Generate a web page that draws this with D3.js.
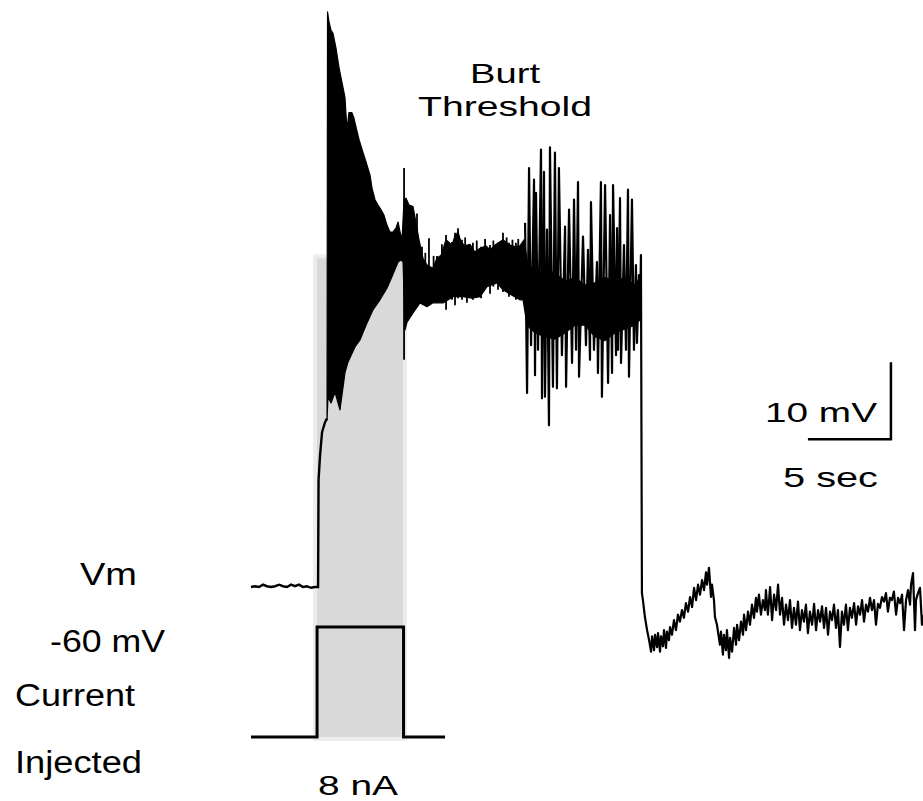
<!DOCTYPE html>
<html>
<head>
<meta charset="utf-8">
<script src="https://d3js.org/d3.v7.min.js"></script>
<style>
    body { margin: 0; background: #fff; }
    text { font-family: "Liberation Sans", Arial, sans-serif; fill: #000; }
</style>
</head>
<body>
<div id="chart"></div>
<script>
// time in s, membrane potential in mV, injected current in nA

let baseline = [
    [0, -60.0], [0.24, -59.9], [0.48, -60.0], [0.72, -59.7], [0.96, -59.9], [1.20, -60.0],
    [1.45, -59.9], [1.69, -59.7], [1.93, -59.9], [2.17, -60.0], [2.41, -59.7], [2.65, -59.9],
    [2.89, -59.7], [3.13, -60.0], [3.37, -59.9], [3.61, -60.1], [3.86, -60.0], [4.04, -60.0],
    [4.07, -46.1], [4.16, -42.9], [4.28, -39.9], [4.46, -38.6], [4.58, -38.1]
];

let burstUpper = [
    [4.58, -38.3], [4.61, 14.7], [4.70, 13.4], [4.82, 12.3], [4.94, 11.9], [5.12, 10.0],
    [5.30, 7.5], [5.54, 4.9], [5.66, 3.6], [5.78, -0.6], [5.90, 1.6], [6.08, 1.6],
    [6.20, 0.9], [6.33, -0.3], [6.51, -1.9], [6.75, -3.6], [6.93, -4.8], [7.17, -6.5],
    [7.29, -8.2], [7.47, -9.7], [7.65, -10.4], [7.83, -11.0], [8.01, -11.7], [8.19, -13.0],
    [8.37, -13.9], [8.55, -13.9], [8.73, -13.4], [8.86, -12.6], [8.98, -13.9], [9.10, -14.9],
    [9.22, -9.7], [9.34, -9.5], [9.52, -10.4], [9.76, -10.6], [9.94, -12.7], [10.12, -14.9],
    [10.36, -17.3], [10.60, -18.2], [10.96, -18.6], [11.20, -17.3], [11.45, -16.9], [11.75, -14.9],
    [12.11, -15.6], [12.29, -14.4], [12.47, -13.9], [12.65, -15.2], [12.89, -15.7], [13.19, -15.5],
    [13.49, -16.5], [13.80, -16.0], [14.16, -15.7], [14.40, -16.2], [14.70, -15.6], [15.18, -14.9],
    [15.60, -15.6], [15.90, -15.8], [16.20, -15.7], [16.45, -14.9], [16.63, -17.5], [17.11, -19.5],
    [17.71, -18.8], [18.31, -19.2], [18.92, -20.3], [19.52, -19.8], [20.12, -20.8], [20.72, -20.5],
    [21.33, -19.8], [21.93, -20.3], [22.53, -19.8], [23.13, -20.8], [23.43, -19.8]
];

let burstLower = [
    [4.58, -38.3], [4.64, -35.3], [4.82, -36.1], [5.06, -34.7], [5.36, -37.0], [5.66, -32.2],
    [5.84, -30.8], [6.27, -28.8], [6.57, -27.9], [6.99, -25.7], [7.35, -24.0], [7.77, -22.7],
    [8.19, -21.2], [8.49, -19.7], [8.86, -17.8], [9.04, -17.5], [9.16, -17.8], [9.28, -26.6],
    [9.40, -25.6], [9.76, -24.4], [10.18, -23.1], [10.60, -23.6], [10.96, -23.1], [11.57, -23.1],
    [12.17, -22.3], [12.77, -22.3], [13.31, -22.5], [13.80, -22.3], [14.22, -21.0], [14.82, -20.5],
    [15.18, -21.4], [15.72, -22.1], [16.20, -22.7], [16.39, -22.7], [16.63, -26.0], [17.11, -27.0],
    [17.71, -27.5], [18.31, -27.8], [18.92, -27.0], [19.52, -26.0], [20.12, -26.0], [20.72, -27.5],
    [21.33, -28.0], [21.93, -27.0], [22.53, -26.5], [23.13, -26.0], [23.43, -25.3]
];

// [time, low, high]
let burstSpikes = [
    [9.22, -30.5, -5.6], [10.00, -20.0, -11.5], [10.30, -21.0, -15.8], [10.50, -22.0, -16.6],
    [10.72, -23.4, -14.7], [11.00, -22.0, -17.0], [11.20, -22.7, -17.0], [11.50, -22.0, -15.5],
    [11.75, -24.0, -14.3], [12.11, -22.7, -15.2], [12.29, -23.4, -14.0], [12.47, -22.5, -13.4],
    [12.71, -22.7, -14.9], [12.90, -22.0, -14.6], [13.01, -23.1, -15.7], [13.37, -22.7, -15.3],
    [13.60, -22.0, -15.0], [13.86, -22.5, -15.8], [14.10, -21.0, -14.8], [14.40, -21.9, -15.6],
    [14.60, -21.0, -15.0], [14.88, -21.4, -15.3], [15.18, -21.7, -14.0], [15.40, -21.0, -14.6],
    [15.54, -22.3, -15.3], [15.75, -22.0, -14.9], [15.96, -22.7, -15.3], [16.10, -22.0, -14.8]
];

let oscillation = [
    [16.51, -12.7], [16.63, -34.8], [16.75, -5.6], [16.87, -28.6], [17.05, -7.1], [17.11, -32.5],
    [17.17, -8.8], [17.29, -29.2], [17.47, -3.2], [17.53, -35.5], [17.65, -6.1], [17.71, -35.3],
    [17.83, -13.6], [17.95, -39.0], [18.01, -2.9], [18.19, -34.0], [18.31, -3.6], [18.43, -34.2],
    [18.55, -5.6], [18.73, -29.9], [18.92, -13.2], [18.98, -34.0], [19.16, -11.0], [19.34, -30.9],
    [19.46, -9.7], [19.58, -29.2], [19.70, -7.4], [19.76, -32.7], [20.00, -14.5], [20.18, -28.6],
    [20.30, -16.2], [20.42, -30.5], [20.48, -10.0], [20.66, -29.2], [20.84, -17.8], [20.90, -32.2],
    [21.08, -7.4], [21.14, -35.3], [21.33, -7.8], [21.51, -33.5], [21.63, -11.7], [21.75, -32.2],
    [21.81, -7.8], [21.99, -29.9], [22.05, -13.4], [22.11, -29.2], [22.23, -9.5], [22.29, -30.9],
    [22.47, -15.6], [22.59, -29.2], [22.71, -8.4], [22.77, -32.7], [22.95, -9.7], [23.07, -29.2],
    [23.19, -18.2], [23.25, -28.3], [23.37, -19.5], [23.43, -25.3], [23.49, -16.9]
];

let recovery = [
    [23.55, -60.8], [23.61, -61.7], [23.73, -63.9], [23.86, -65.6], [23.98, -66.9], [24.10, -68.4],
    [24.16, -66.4], [24.28, -68.2], [24.34, -66.2], [24.46, -67.8], [24.52, -66.0], [24.64, -68.4],
    [24.70, -66.4], [24.82, -67.7], [24.88, -65.6], [25.00, -67.9], [25.06, -65.8], [25.18, -66.9],
    [25.24, -65.2], [25.36, -66.2], [25.48, -64.3], [25.60, -65.6], [25.72, -63.6], [25.84, -64.5],
    [25.96, -63.0], [26.08, -64.0], [26.20, -62.1], [26.33, -63.2], [26.45, -61.3], [26.57, -62.6],
    [26.69, -60.1], [26.81, -61.7], [26.93, -59.7], [27.05, -61.0], [27.17, -59.1], [27.29, -60.4],
    [27.41, -58.1], [27.47, -59.7], [27.59, -57.5], [27.71, -61.3], [27.77, -59.7], [27.89, -61.7],
    [27.95, -63.9], [28.07, -64.9], [28.13, -65.8], [28.25, -67.5], [28.31, -65.8], [28.43, -68.8],
    [28.49, -66.2], [28.61, -68.2], [28.67, -65.6], [28.80, -69.2], [28.86, -66.6], [28.98, -68.4],
    [29.10, -65.3], [29.22, -67.5], [29.28, -64.9], [29.40, -66.9], [29.52, -64.5], [29.64, -66.2],
    [29.70, -63.6], [29.82, -65.6], [29.94, -63.2], [30.06, -64.9], [30.18, -62.3], [30.30, -64.0],
    [30.42, -61.4], [30.48, -63.2], [30.60, -61.0], [30.72, -63.6], [30.84, -61.7], [30.96, -63.0],
    [31.02, -60.4], [31.14, -63.6], [31.27, -60.0], [31.39, -64.3], [31.51, -61.0], [31.63, -63.0],
    [31.75, -59.7], [31.87, -63.6], [31.99, -61.4], [32.11, -64.9], [32.23, -62.3], [32.35, -64.3],
    [32.47, -61.7], [32.59, -65.3], [32.71, -62.7], [32.83, -64.9], [32.95, -61.9], [33.07, -65.6],
    [33.19, -63.0], [33.31, -64.5], [33.43, -62.3], [33.55, -66.0], [33.67, -63.2], [33.80, -64.9],
    [33.92, -62.2], [34.04, -65.6], [34.16, -63.0], [34.28, -64.5], [34.40, -62.5], [34.52, -65.3],
    [34.64, -62.7], [34.76, -66.2], [34.88, -63.2], [35.00, -64.3], [35.12, -62.3], [35.24, -65.3],
    [35.36, -63.0], [35.48, -67.8], [35.60, -63.2], [35.72, -64.9], [35.84, -62.3], [35.96, -65.6],
    [36.08, -62.7], [36.20, -64.0], [36.33, -62.1], [36.45, -64.9], [36.57, -62.5], [36.69, -63.6],
    [36.81, -61.7], [36.93, -64.5], [37.05, -62.3], [37.17, -63.2], [37.29, -61.4], [37.41, -63.0],
    [37.53, -61.7], [37.65, -64.9], [37.77, -62.2], [37.89, -62.7], [38.01, -61.3], [38.13, -61.9],
    [38.25, -60.8], [38.37, -63.2], [38.49, -61.4], [38.61, -61.7], [38.73, -60.6], [38.86, -63.6],
    [38.98, -61.4], [39.10, -62.1], [39.22, -61.0], [39.34, -65.6], [39.46, -61.7], [39.58, -60.4],
    [39.70, -62.3], [39.76, -59.7], [39.88, -58.2], [40.00, -65.6], [40.06, -61.7], [40.18, -60.8],
    [40.30, -60.1], [40.42, -64.9], [40.48, -63.6]
];

let current = [[0, 0], [3.98, 0], [3.98, 8], [9.19, 8], [9.19, 0], [11.69, 0]];

let stimWindow = [3.73, 9.40];   // shaded period (s)
let shadeTop = -16.8;            // mV
let scaleBar = {t: 38.55, v: -40.8, dt: 5, dv: 10};

/////////////
/// Setup ///
/////////////

let width  = 923;
let height = 801;

let svg = d3.select("#chart")
    .append("svg")
    .attr("width", width)
    .attr("height", height)
    .style("display", "block");

let x    = d3.scaleLinear().domain([0, 40.6]).range([251, 251 + 40.6 * 16.6]);
let y    = d3.scaleLinear().domain([-70, 20]).range([587 + 77, 587 - 80 * 7.7]);
let yCur = d3.scaleLinear().domain([0, 8]).range([737, 627]);

let line    = d3.line().x(d => x(d[0])).y(d => y(d[1]));
let curLine = d3.line().x(d => x(d[0])).y(d => yCur(d[1]));

/////////////
/// Shade ///
/////////////

svg.append("rect")
    .attr("x", x(stimWindow[0]) + 2)
    .attr("y", y(shadeTop) + 2)
    .attr("width", x(stimWindow[1]) - x(stimWindow[0]) - 4)
    .attr("height", yCur(0) - y(shadeTop))
    .attr("fill", "#d9d9d9")
    .attr("stroke", "#ededed")
    .attr("stroke-width", 4);

///////////////
/// Current ///
///////////////

svg.append("path")
    .datum(current)
    .attr("fill", "none")
    .attr("stroke", "#000")
    .attr("stroke-width", 3)
    .attr("d", curLine);

//////////
/// Vm ///
//////////

svg.append("path")
    .datum(burstUpper.concat(burstLower.slice().reverse()))
    .attr("fill", "#000")
    .attr("stroke", "#000")
    .attr("stroke-width", 1.2)
    .attr("stroke-linejoin", "round")
    .attr("d", d => line(d) + "Z");

svg.append("g")
    .selectAll("line")
    .data(burstSpikes)
    .enter()
    .append("line")
    .attr("x1", d => x(d[0]))
    .attr("x2", d => x(d[0]))
    .attr("y1", d => y(d[1]))
    .attr("y2", d => y(d[2]))
    .attr("stroke", "#000")
    .attr("stroke-width", 1.8);

svg.append("path")
    .datum(baseline)
    .attr("fill", "none")
    .attr("stroke", "#000")
    .attr("stroke-width", 2.4)
    .attr("d", line);

svg.append("path")
    .datum(oscillation.concat(recovery))
    .attr("fill", "none")
    .attr("stroke", "#000")
    .attr("stroke-width", 2.2)
    .attr("stroke-linejoin", "round")
    .attr("d", line);

/////////////////
/// Scale bar ///
/////////////////

svg.append("path")
    .datum([[scaleBar.t - scaleBar.dt, scaleBar.v], [scaleBar.t, scaleBar.v], [scaleBar.t, scaleBar.v + scaleBar.dv]])
    .attr("fill", "none")
    .attr("stroke", "#000")
    .attr("stroke-width", 2.5)
    .attr("d", line);

//////////////
/// Labels ///
//////////////

let labels = [
    {text: "Burt",      x: 470, y: 83,  size: 28, w: 70},
    {text: "Threshold", x: 418, y: 116, size: 28, w: 174},
    {text: "10 mV",     x: 765, y: 422, size: 28, w: 112},
    {text: "5 sec",     x: 783, y: 487, size: 28, w: 95},
    {text: "Vm",        x: 80,  y: 585, size: 31, w: 57},
    {text: "-60 mV",    x: 50,  y: 652, size: 31, w: 115},
    {text: "Current",   x: 15,  y: 706, size: 31, w: 120},
    {text: "Injected",  x: 15,  y: 773, size: 31, w: 127},
    {text: "8 nA",      x: 318, y: 795, size: 28, w: 80}
];

svg.selectAll("text.label")
    .data(labels)
    .enter()
    .append("text")
    .attr("class", "label")
    .attr("x", d => d.x)
    .attr("y", d => d.y)
    .attr("font-size", d => d.size + "px")
    .attr("textLength", d => d.w)
    .attr("lengthAdjust", "spacingAndGlyphs")
    .text(d => d.text);
</script>
</body>
</html>
